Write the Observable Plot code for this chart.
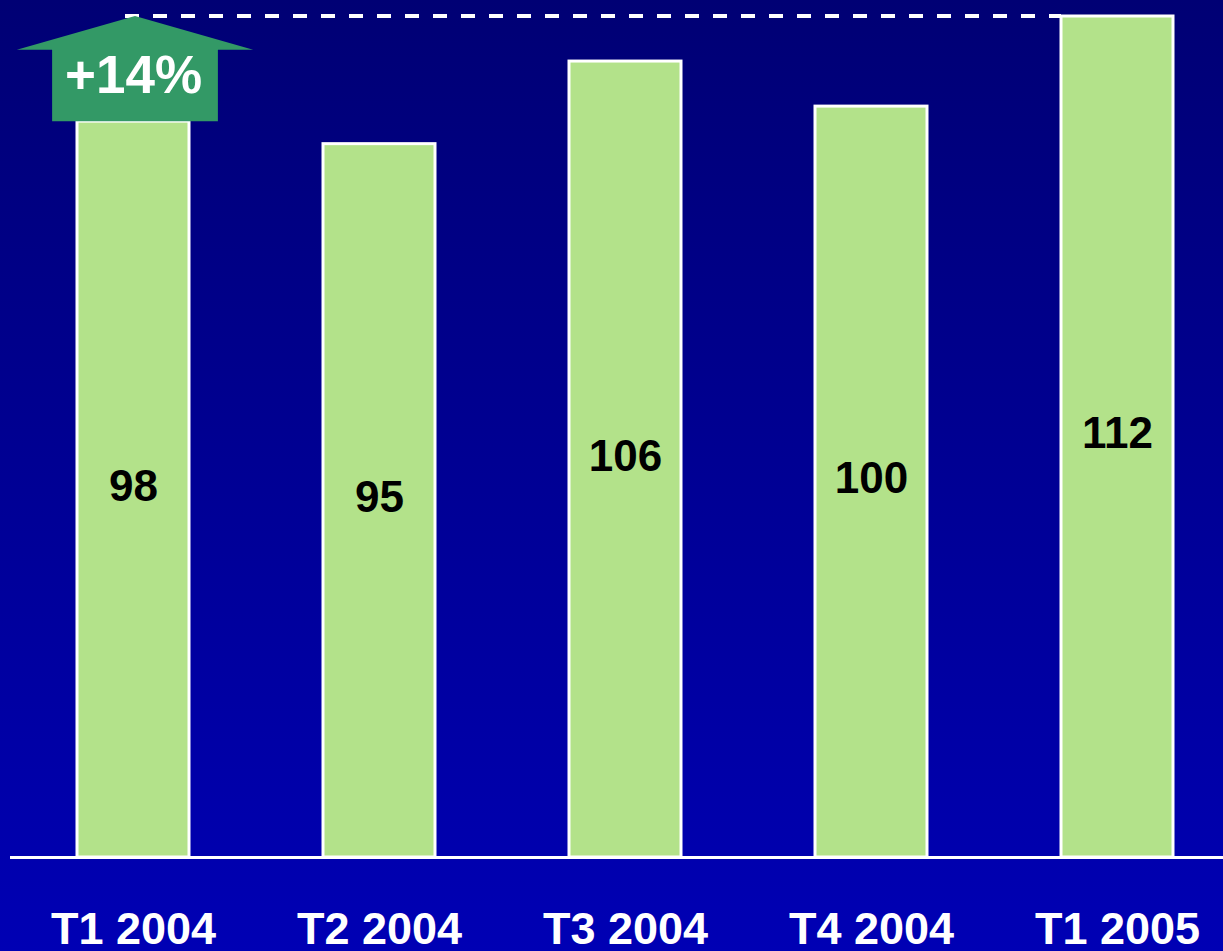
<!DOCTYPE html>
<html>
<head>
<meta charset="utf-8">
<script src="https://cdn.jsdelivr.net/npm/d3@7"></script>
<script src="https://cdn.jsdelivr.net/npm/@observablehq/plot@0.6"></script>
<style>
  html, body { margin: 0; padding: 0; overflow: hidden; }
  body { width: 1223px; height: 951px; background: linear-gradient(to bottom, #000074 0%, #0000b4 100%); }
  #chart svg { display: block; }
</style>
</head>
<body>
<div id="chart"></div>
<script>
// Data
const quarters = ["T1 2004", "T2 2004", "T3 2004", "T4 2004", "T1 2005"];
const values = [98, 95, 106, 100, 112];

const data = quarters.map((q, i) => ({q, v: values[i]}));
const first = data[0], last = data[data.length - 1];
const growthLabel = `+${Math.round((last.v / first.v - 1) * 100)}%`;

const W = 1223, H = 951;
const font = "'Liberation Sans', Arial, Helvetica, sans-serif";

// Annotation: dashed reference line and upward arrow, positioned via scales
function annotation(index, scales, values_, dims) {
  const x = scales.x, y = scales.y;
  const bw = x.bandwidth();
  const cx = x(first.q) + bw / 2 + 2;
  const yTip = y(last.v);
  const yBase = y(first.v);
  const yHead = y(last.v - 4.5);
  const g = d3.create("svg:g");
  g.append("line")
    .attr("x1", x(first.q) + bw / 2 - 8)
    .attr("x2", x(last.q))
    .attr("y1", yTip).attr("y2", yTip)
    .attr("stroke", "white")
    .attr("stroke-width", 4)
    .attr("stroke-dasharray", "14,14");
  const hw = bw * 1.055, rw = bw * 0.74;
  const pts = [
    [cx, yTip], [cx + hw, yHead], [cx + rw, yHead], [cx + rw, yBase],
    [cx - rw, yBase], [cx - rw, yHead], [cx - hw, yHead]
  ];
  g.append("path")
    .attr("d", "M" + pts.map(p => p.join(",")).join("L") + "Z")
    .attr("fill", "#339966");
  return g.node();
}

const chart = Plot.plot({
  width: W,
  height: H,
  margin: 0,
  x: {type: "band", domain: quarters, range: [8.75, 1241.25], paddingInner: 0.5456, paddingOuter: 0.2728, axis: null},
  y: {domain: [0, 112], range: [857, 16], axis: null},
  style: {fontFamily: font, background: "none"},
  marks: [
    Plot.barY(data, {x: "q", y: "v", fill: "#b3e28a", stroke: "white", strokeWidth: 3}),
    Plot.ruleY([0], {stroke: "white", strokeWidth: 3, insetLeft: 10}),
    annotation,
    Plot.text([first], {x: "q", y: () => 104.1, dx: 0, text: () => growthLabel, fill: "white", fontWeight: "bold", fontSize: 53}),
    Plot.text(data, {x: "q", y: d => d.v / 2, text: d => String(d.v), fill: "black", fontWeight: "bold", fontSize: 44, letterSpacing: 1, dy: -3}),
    Plot.text(quarters, {x: d => d, frameAnchor: "bottom", text: d => d, fill: "white", fontWeight: "bold", fontSize: 45, letterSpacing: 1.5, lineAnchor: "bottom", dy: -8})
  ]
});
document.getElementById("chart").appendChild(chart);
</script>
</body>
</html>
